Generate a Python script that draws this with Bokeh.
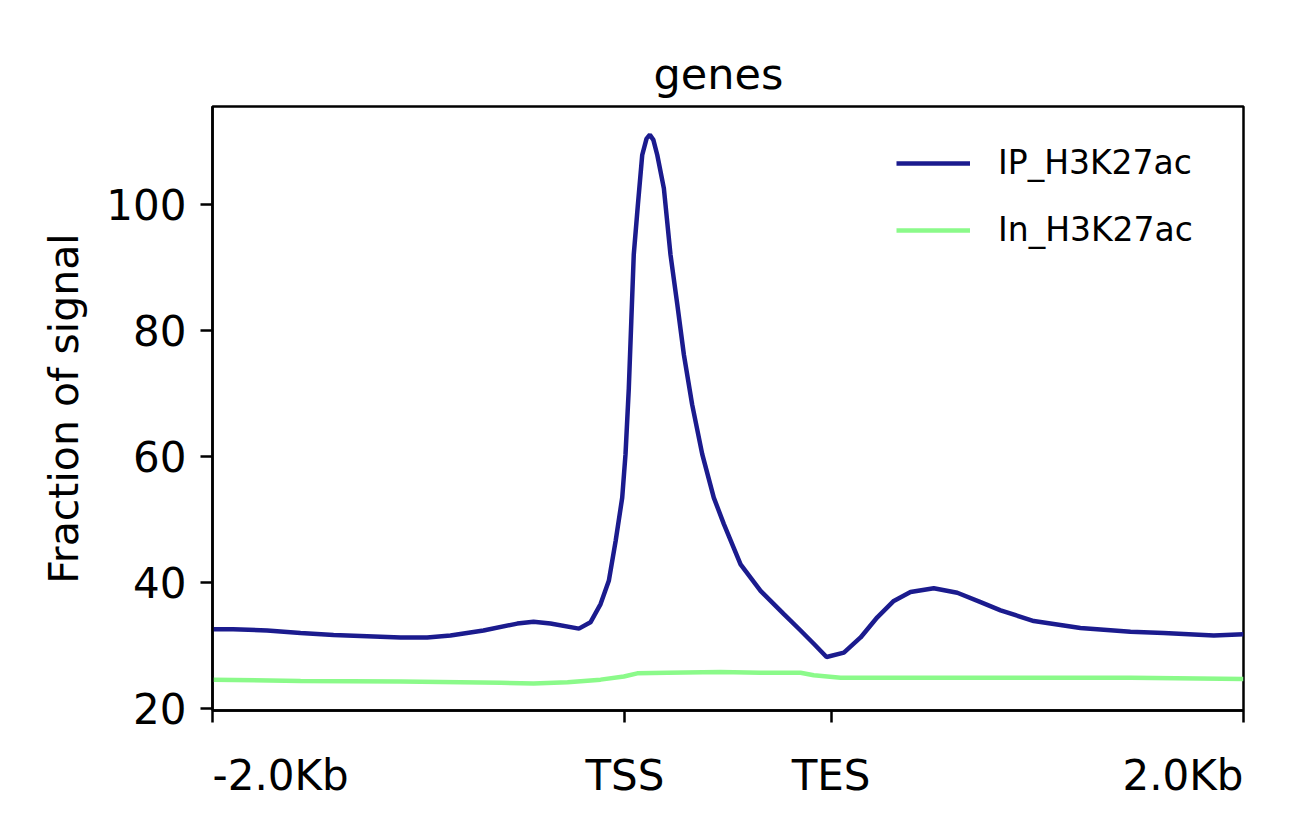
from bokeh.plotting import figure
from bokeh.layouts import column
from bokeh.models import FixedTicker, Legend, LegendItem
from bokeh.core.properties import value
from bokeh.embed import file_html
from bokeh.resources import INLINE

# profile positions in bp: 2kb upstream, 1kb scaled body, 2kb downstream
ip_x = [0, 100, 265, 427, 587, 750, 912, 1041, 1154, 1314, 1478, 1557, 1639, 1777, 1833,
        1882, 1922, 1955, 1987, 2003, 2019, 2031, 2043, 2063, 2084, 2105, 2121, 2138, 2157,
        2189, 2221, 2254, 2286, 2326, 2375, 2431, 2480, 2561, 2658, 2771, 2852, 2916, 2978,
        3062, 3143, 3224, 3304, 3385, 3498, 3612, 3725, 3822, 3983, 4209, 4452, 4613, 4856, 5000]
ip_y = [32.6, 32.6, 32.4, 32.0, 31.7, 31.5, 31.3, 31.3, 31.6, 32.4, 33.5, 33.8, 33.5, 32.7, 33.7,
        36.6, 40.3, 46.6, 53.5, 60.4, 70.9, 81.5, 92.1, 100.0, 107.9, 110.5, 111.1, 110.3, 107.9,
        102.6, 92.1, 84.2, 76.2, 68.3, 60.4, 53.5, 49.3, 42.9, 38.7, 35.0, 32.4, 30.3, 28.2,
        28.9, 31.3, 34.5, 37.1, 38.5, 39.1, 38.4, 36.9, 35.6, 33.9, 32.8, 32.2, 32.0, 31.6, 31.8]

in_x = [0, 427, 912, 1397, 1557, 1722, 1882, 1995, 2060, 2206, 2464, 2658, 2852, 2916,
        3046, 3337, 3822, 4452, 5000]
in_y = [24.6, 24.4, 24.3, 24.1, 24.0, 24.2, 24.6, 25.1, 25.6, 25.7, 25.8, 25.7, 25.7, 25.3,
        24.9, 24.9, 24.9, 24.9, 24.7]

xtick_pos = [0, 2000, 3000, 5000]
xtick_labels = ["-2.0Kb", "TSS", "TES", "2.0Kb"]
xtick_align = ["left", "center", "center", "right"]
ytick_pos = [20, 40, 60, 80, 100]

FONT = "DejaVu Sans"
W = 1290

p = figure(width=W, height=735, x_range=(0, 5000), y_range=(19.7, 115.6),
           output_backend="svg", toolbar_location=None,
           min_border_left=212, min_border_right=W - 1243, min_border_top=106, min_border_bottom=25)

p.title.text = "genes"
p.title.align = "left"
p.title.offset = 441
p.title.text_font = FONT
p.title.text_font_size = "43px"
p.title.text_font_style = "normal"
p.title.text_color = "black"
p.title.standoff = 16

p.xgrid.visible = False
p.ygrid.visible = False
p.outline_line_color = "black"
p.outline_line_width = 2.5
p.outline_line_alpha = 1

r_ip = p.line(ip_x, ip_y, line_color="#1b1b8e", line_width=4.5)
r_in = p.line(in_x, in_y, line_color="#8bfa8a", line_width=4.5)

for ax in (p.xaxis[0], p.yaxis[0]):
    ax.axis_line_width = 2.5
    ax.major_tick_line_width = 2.5
    ax.major_tick_in = 0
    ax.major_tick_out = 12
    ax.minor_tick_line_color = None
    ax.major_label_text_font = FONT
    ax.major_label_text_font_size = "42px"
    ax.major_label_text_color = "black"
    ax.major_label_standoff = 14

# x ticks only here; their labels go in the strip below, aligned like the original
p.xaxis.ticker = FixedTicker(ticks=xtick_pos)
p.xaxis.major_label_overrides = {t: "" for t in xtick_pos}
p.xaxis.major_label_text_font_size = "0px"
p.xaxis.major_label_standoff = 0

p.yaxis.ticker = FixedTicker(ticks=ytick_pos)
p.yaxis.axis_label = "Fraction of signal"
p.yaxis.axis_label_text_font = FONT
p.yaxis.axis_label_text_font_size = "41px"
p.yaxis.axis_label_text_font_style = "normal"
p.yaxis.axis_label_text_color = "black"
p.yaxis.axis_label_standoff = 15

legend = Legend(items=[LegendItem(label="IP_H3K27ac", renderers=[r_ip]),
                       LegendItem(label="In_H3K27ac", renderers=[r_in])],
                location=(684, 461), padding=0, margin=0,
                glyph_width=74, glyph_height=38, label_height=38, spacing=28,
                label_standoff=28, label_text_font=FONT, label_text_font_size="33px",
                label_text_color="black",
                background_fill_alpha=0, border_line_alpha=0)
p.add_layout(legend)

# strip under the plot holding the x tick labels, sharing the x scale
lab = figure(width=W, height=92, x_range=p.x_range, y_range=(0, 1), title=None,
             output_backend="svg", toolbar_location=None,
             min_border_left=212, min_border_right=W - 1243, min_border_top=0, min_border_bottom=0)
lab.axis.visible = False
lab.grid.visible = False
lab.outline_line_color = None
lab.text(x=xtick_pos, y=[0.565] * len(xtick_pos), text=xtick_labels, text_align=xtick_align,
         text_baseline="alphabetic", text_font=value(FONT), text_font_size="42px",
         text_color="black")

layout = column(p, lab, spacing=0)
open("out.html", "w").write(file_html(layout, INLINE))
